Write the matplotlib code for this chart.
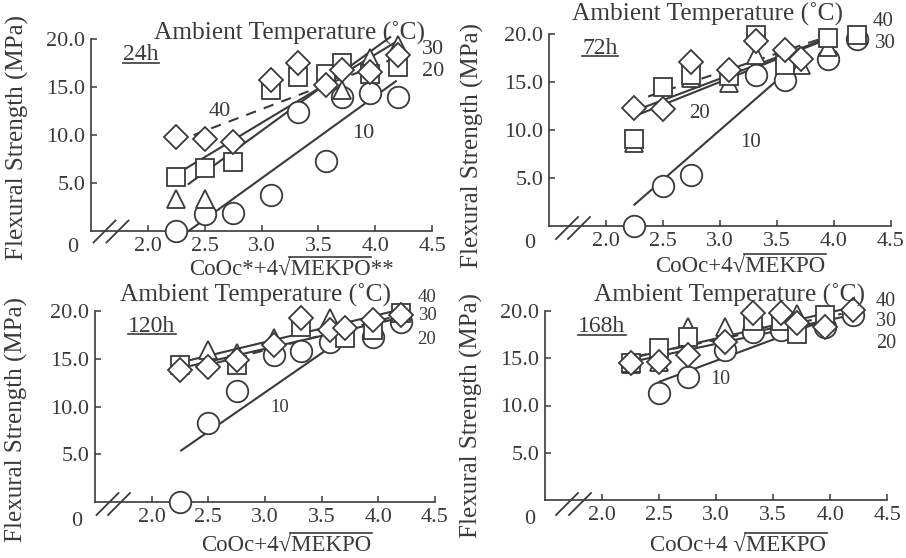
import numpy as np
import matplotlib
matplotlib.use("Agg")
import matplotlib.pyplot as plt
from matplotlib.lines import Line2D
from matplotlib.transforms import IdentityTransform

nan = np.nan

# CoOc + 4*sqrt(MEKPO) values used on the x axis
X = [2.25, 2.5, 2.75, 3.08, 3.32, 3.57, 3.71, 3.95, 4.2]

# flexural strength (MPa) by ambient temperature, per curing time
h24_t10 = [0.0, 1.75, 1.9, 3.8, 12.4, 7.3, 14.0, 14.4, 14.0]
h24_t20 = [3.3, 3.3, nan, nan, nan, nan, 14.65, 18.0, 19.4]
h24_t30 = [5.6, 6.6, 7.15, 14.7, 16.05, 16.4, 17.45, 16.4, 17.1]
h24_t40 = [9.8, 9.6, 9.25, 15.7, 17.5, 15.2, 16.75, 16.6, 18.3]

h72_t10 = [0.0, 4.1, 5.3, nan, 15.75, 15.2, nan, 17.4, 19.5]
h72_t20 = [8.6, nan, 15.4, 14.9, 17.8, nan, 16.8, 18.7, nan]
h72_t30 = [9.1, 14.5, 15.7, 15.6, 19.9, 16.8, nan, 19.6, 19.9]
h72_t40 = [12.3, 12.2, 17.1, 16.3, 19.3, 18.4, 17.4, nan, nan]

h120_t10 = [0.0, 8.25, 11.6, 15.4, 15.8, 16.8, nan, 17.35, 18.9]
h120_t20 = [nan, 15.95, 15.6, 17.2, nan, 19.3, nan, nan, 19.9]
h120_t30 = [14.4, nan, 14.4, nan, 18.4, nan, 17.2, 18.05, 19.8]
h120_t40 = [13.85, 14.2, 14.9, 16.5, 19.3, 18.05, 18.2, 19.1, 19.6]

h168_t10 = [nan, 11.3, 13.05, 15.9, 17.8, 18.0, nan, 18.3, 19.6]
h168_t20 = [14.4, 14.6, 18.3, 18.3, nan, nan, 19.7, nan, nan]
h168_t30 = [14.5, 16.05, 17.3, nan, 18.9, 18.9, 17.6, 19.6, nan]
h168_t40 = [14.45, 14.6, 15.3, 16.75, 19.75, 19.75, 18.7, 18.3, 20.1]

# fitted lines: x0, y0, x1, y1
h24_fit10 = [2.36, 0.0, 4.18, 15.6]
h24_fit20 = [2.36, 4.9, 4.13, 20.2]
h24_fit30 = [2.25, 5.9, 4.21, 19.9]
h24_fit40 = [2.25, 9.3, 4.22, 18.2]
h72_fit10 = [2.25, 2.2, 3.58, 16.0]
h72_fit20 = [2.24, 11.4, 3.9, 19.3]
h72_fit30 = [2.25, 12.0, 3.97, 19.7]
h72_fit40 = [2.37, 13.5, 4.03, 20.1]
h120_fit10 = [2.26, 5.4, 3.56, 16.1]
h120_fit20 = [2.24, 14.0, 4.19, 19.3]
h120_fit30 = [2.24, 14.6, 4.13, 20.0]
h120_fit40 = [2.25, 13.6, 4.19, 19.6]
h168_fit10 = [2.5, 12.5, 3.95, 19.0]
h168_fit20 = [2.25, 14.6, 4.2, 19.6]
h168_fit30 = [2.25, 15.0, 4.12, 20.2]
h168_fit40 = [2.3, 15.2, 4.1, 19.7]

x_ticks = [2.0, 2.5, 3.0, 3.5, 4.0, 4.5]
y_ticks = [5.0, 10.0, 15.0, 20.0]

plt.rcParams["font.family"] = ["Liberation Serif", "DejaVu Serif"]

INK = "#3a3a3a"
W, H = 906, 558
fig = plt.figure(figsize=(W / 100, H / 100), dpi=100)
fig.patch.set_facecolor("white")


def fx(x, y):
    return x / W, 1 - y / H


# panel layout in pixels: left, right, baseline, top
panels = [
    dict(box=(90.7, 432.3, 231, 39), tag="24h",
         series=[h24_t10, h24_t20, h24_t30, h24_t40],
         fits=[h24_fit10, h24_fit20, h24_fit30, h24_fit40],
         xl=("CoOc*+4\u221a", "MEKPO", "**"),
         title_at=(290, 33), tag_at=(141, 55), xl_at=(291, 275), yl_at=(17, 137),
         zero_at=(73, 248), brk=(104.5, 117.5, 231.5), nsize=16,
         nums=[("30", 433, 49), ("20", 433, 72), ("40", 220, 112), ("10", 363, 133)]),
    dict(box=(549, 890.7, 225.7, 34.3), tag="72h",
         series=[h72_t10, h72_t20, h72_t30, h72_t40],
         fits=[h72_fit10, h72_fit20, h72_fit30, h72_fit40],
         xl=("CoOc+4\u221a", "MEKPO", ""),
         title_at=(708, 14), tag_at=(600, 48), xl_at=(740, 272), yl_at=(472, 145),
         zero_at=(530, 243), brk=(567, 579, 228), nsize=15,
         nums=[("40", 883, 22), ("30", 885, 43), ("20", 700, 113), ("10", 751, 142)]),
    dict(box=(95, 435, 502, 311.3), tag="120h",
         series=[h120_t10, h120_t20, h120_t30, h120_t40],
         fits=[h120_fit10, h120_fit20, h120_fit30, h120_fit40],
         xl=("CoOc+4\u221a", "MEKPO", ""),
         title_at=(256, 295), tag_at=(152, 326), xl_at=(286, 551), yl_at=(16, 420),
         zero_at=(77, 521), brk=(107.5, 119, 504), nsize=13.5,
         nums=[("40", 427, 297), ("30", 427, 315), ("20", 427, 339), ("10", 280, 407)]),
    dict(box=(545, 887.3, 500, 311), tag="168h",
         series=[h168_t10, h168_t20, h168_t30, h168_t40],
         fits=[h168_fit10, h168_fit20, h168_fit30, h168_fit40],
         xl=("CoOc+4 \u221a", "MEKPO", ""),
         title_at=(729, 295), tag_at=(602, 327), xl_at=(738, 551), yl_at=(471, 416),
         zero_at=(530, 520), brk=(567, 580, 504), nsize=14.5,
         nums=[("40", 886, 302), ("30", 886, 322), ("20", 886, 343), ("10", 720, 379)]),
]

markers = [("o", 15.5, 3), ("^", 13, 4), ("s", 13, 5), ("D", 12.5, 6)]
XL_SIZE = 16.5
tags = []
xlabels = []

for p in panels:
    l, r, b, t = p["box"]
    x0, y0 = fx(l, b)
    ax = fig.add_axes([x0, y0, (r - l) / W, (b - t) / H])
    ax.set_xlim(1.5, 4.5)
    ax.set_ylim(0, 20)
    for s in ["top", "right"]:
        ax.spines[s].set_visible(False)
    for s in ["left", "bottom"]:
        ax.spines[s].set_color(INK)
        ax.spines[s].set_linewidth(1.2)
    ax.set_xticks(x_ticks)
    ax.set_xticklabels(["%.1f" % v for v in x_ticks])
    ax.set_yticks(y_ticks)
    ax.set_yticklabels(["%.1f" % v for v in y_ticks])
    ax.tick_params(direction="in", length=4, width=1.1, colors=INK, labelsize=16)
    ax.tick_params(axis="x", pad=4.5)
    ax.tick_params(axis="y", pad=4)
    ax.patch.set_alpha(0)

    # fitted lines (40 C is dashed)
    for k, f in enumerate(p["fits"]):
        ax.plot([f[0], f[2]], [f[1], f[3]], color=INK, lw=1.5,
                ls=(0, (5, 4)) if k == 3 else "-", zorder=2, clip_on=False)

    for (m, ms, z), ys in zip(markers, p["series"]):
        ax.plot(X, ys, ls="none", marker=m, ms=ms, mfc="white", mec=INK,
                mew=1.3, zorder=z, clip_on=False)

    # axis break marks
    bx1, bx2, by = p["brk"]
    for bx in (bx1, bx2):
        fig.add_artist(Line2D([bx - 11, bx + 11], [H - (by + 11), H - (by - 11)],
                              color=INK, lw=1.3, transform=IdentityTransform()))

    fig.text(*fx(*p["zero_at"]), "0", fontsize=16, color=INK, ha="center", va="center")
    fig.text(*fx(*p["title_at"]), "Ambient Temperature (\u02daC)", fontsize=18.3,
             color=INK, ha="center", va="center")
    xt = fig.text(*fx(*p["xl_at"]), "".join(p["xl"]), fontsize=XL_SIZE, color=INK,
                  ha="center", va="baseline")
    xlabels.append((xt, p["xl"], p["xl_at"][1]))
    fig.text(*fx(*p["yl_at"]), "Flexural Strength (MPa)", fontsize=18, color=INK,
             ha="center", va="center", rotation=90)
    tags.append(fig.text(*fx(*p["tag_at"]), p["tag"], fontsize=17, color=INK,
                         ha="center", va="center"))
    for txt, tx, ty in p["nums"]:
        fig.text(*fx(tx, ty), txt, fontsize=p["nsize"], color=INK,
                 ha="center", va="center")

fig.canvas.draw()
rend = fig.canvas.get_renderer()


def text_width(s):
    tmp = fig.text(0, 0, s, fontsize=XL_SIZE)
    w = tmp.get_window_extent(rend).width
    tmp.remove()
    return w


# underline the curing-time tags
for tg in tags:
    bb = tg.get_window_extent(rend)
    fig.add_artist(Line2D([bb.x0, bb.x1], [bb.y0 + 3, bb.y0 + 3], color=INK,
                          lw=1.2, transform=IdentityTransform()))

# radical bar over MEKPO
em = XL_SIZE * 100 / 72
for xt, (pre, rad, post), base in xlabels:
    bb = xt.get_window_extent(rend)
    xa = bb.x0 + text_width(pre) - 1
    xb = bb.x0 + text_width(pre + rad) + 1
    yb = H - base + 0.8 * em
    fig.add_artist(Line2D([xa, xb], [yb, yb], color=INK, lw=1.2,
                          transform=IdentityTransform()))

fig.savefig("out.png", dpi=100)
